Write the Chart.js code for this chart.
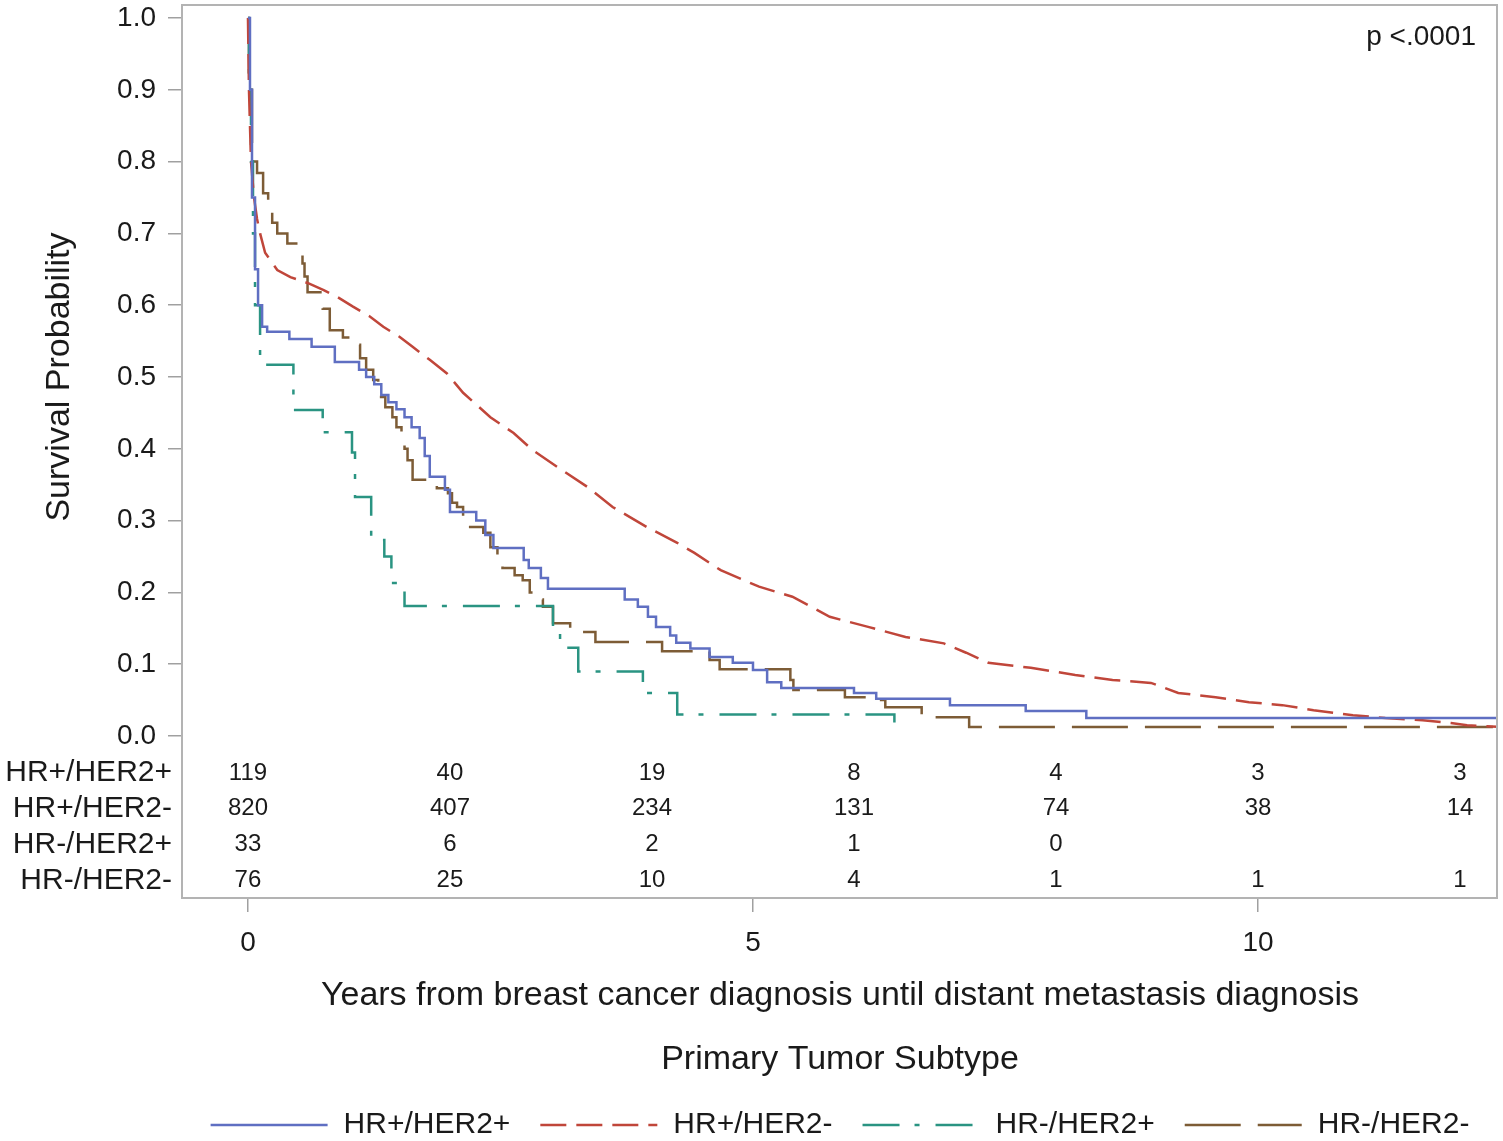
<!DOCTYPE html>
<html>
<head>
<meta charset="utf-8">
<title>Survival by primary tumor subtype</title>
<script src="https://cdn.jsdelivr.net/npm/chart.js@4.4.0/dist/chart.umd.min.js"></script>
<style>
    html, body { margin: 0; padding: 0; background: #fff; }
    #wrap { width: 1503px; height: 1141px; }
</style>
</head>
<body>
<div id="wrap"><canvas id="kmChart"></canvas></div>
<script>
// groups
const groups = ['HR+/HER2+', 'HR+/HER2-', 'HR-/HER2+', 'HR-/HER2-'];

// HR+/HER2+ (step curve)
const hrPosHer2PosTime = [0, 0.02, 0.04, 0.07, 0.10, 0.14, 0.19, 0.41, 0.63, 0.86, 1.10, 1.17, 1.25, 1.32, 1.39, 1.47, 1.55, 1.62, 1.70, 1.75, 1.80, 1.95, 2.00, 2.26, 2.35, 2.43, 2.73, 2.78, 2.90, 2.97, 3.73, 3.86, 3.96, 4.04, 4.18, 4.24, 4.38, 4.57, 4.80, 5.00, 5.14, 5.28, 6.00, 6.22, 6.95, 7.70, 8.30, 12.37];
const hrPosHer2PosSurv = [1.0, 0.90, 0.75, 0.65, 0.60, 0.57, 0.563, 0.553, 0.542, 0.521, 0.51, 0.50, 0.49, 0.475, 0.465, 0.455, 0.444, 0.43, 0.415, 0.39, 0.361, 0.343, 0.312, 0.30, 0.28, 0.262, 0.245, 0.234, 0.22, 0.205, 0.19, 0.18, 0.166, 0.152, 0.14, 0.13, 0.122, 0.11, 0.102, 0.092, 0.075, 0.067, 0.06, 0.052, 0.043, 0.035, 0.025, 0.025];

// HR+/HER2- (dense small steps, drawn as a line)
const hrPosHer2NegTime = [0, 0.01, 0.03, 0.06, 0.09, 0.12, 0.17, 0.29, 0.42, 0.59, 0.75, 0.89, 1.04, 1.21, 1.34, 1.50, 1.63, 1.80, 1.97, 2.13, 2.40, 2.63, 2.82, 3.06, 3.36, 3.61, 3.95, 4.25, 4.42, 4.68, 5.06, 5.39, 5.76, 6.14, 6.51, 6.89, 7.11, 7.33, 7.75, 8.19, 8.56, 8.94, 9.21, 9.58, 9.91, 10.24, 10.55, 10.94, 11.26, 11.63, 11.91, 12.07, 12.37];
const hrPosHer2NegSurv = [1.0, 0.90, 0.80, 0.75, 0.72, 0.70, 0.673, 0.649, 0.639, 0.631, 0.621, 0.611, 0.598, 0.584, 0.57, 0.556, 0.542, 0.524, 0.505, 0.478, 0.444, 0.422, 0.398, 0.375, 0.347, 0.319, 0.291, 0.269, 0.255, 0.231, 0.208, 0.194, 0.166, 0.152, 0.138, 0.129, 0.116, 0.102, 0.095, 0.085, 0.078, 0.074, 0.06, 0.054, 0.047, 0.043, 0.036, 0.029, 0.025, 0.022, 0.018, 0.015, 0.013];

// HR-/HER2+ (step curve, ends at 0)
const hrNegHer2PosTime = [0, 0.01, 0.03, 0.05, 0.07, 0.12, 0.45, 0.74, 1.03, 1.06, 1.22, 1.35, 1.42, 1.55, 3.02, 3.09, 3.27, 3.91, 4.25, 6.40];
const hrNegHer2PosSurv = [1.0, 0.90, 0.80, 0.70, 0.60, 0.517, 0.454, 0.423, 0.395, 0.333, 0.273, 0.25, 0.213, 0.181, 0.152, 0.123, 0.09, 0.06, 0.03, 0.0];

// HR-/HER2- (step curve)
const hrNegHer2NegTime = [0, 0.01, 0.04, 0.09, 0.15, 0.20, 0.24, 0.29, 0.39, 0.51, 0.54, 0.56, 0.59, 0.74, 0.81, 0.94, 1.01, 1.11, 1.17, 1.24, 1.29, 1.36, 1.43, 1.47, 1.52, 1.55, 1.58, 1.63, 1.87, 1.98, 2.02, 2.07, 2.13, 2.20, 2.33, 2.40, 2.47, 2.52, 2.64, 2.72, 2.79, 2.87, 2.92, 3.02, 3.19, 3.44, 4.10, 4.57, 4.67, 5.37, 5.40, 5.91, 6.25, 6.31, 6.67, 7.14, 12.37];
const hrNegHer2NegSurv = [1.0, 0.90, 0.80, 0.784, 0.756, 0.733, 0.715, 0.70, 0.686, 0.677, 0.658, 0.64, 0.618, 0.595, 0.565, 0.555, 0.545, 0.526, 0.51, 0.496, 0.472, 0.458, 0.444, 0.43, 0.418, 0.40, 0.384, 0.357, 0.345, 0.338, 0.325, 0.319, 0.305, 0.291, 0.283, 0.263, 0.25, 0.234, 0.224, 0.217, 0.20, 0.19, 0.18, 0.157, 0.145, 0.131, 0.118, 0.106, 0.093, 0.078, 0.064, 0.054, 0.05, 0.04, 0.026, 0.0125, 0.0125];

// number at risk
const atRiskTimes = [0, 2, 4, 6, 8, 10, 12];
const hrPosHer2PosRisk = [119, 40, 19, 8, 4, 3, 3];
const hrPosHer2NegRisk = [820, 407, 234, 131, 74, 38, 14];
const hrNegHer2PosRisk = [33, 6, 2, 1, 0, null, null];
const hrNegHer2NegRisk = [76, 25, 10, 4, 1, 1, 1];

const xTicks = [0, 5, 10];
const yTicks = [0, 0.1, 0.2, 0.3, 0.4, 0.5, 0.6, 0.7, 0.8, 0.9, 1.0];

const FONT = "'Liberation Sans', Arial, sans-serif";
const TEXT = '#1a1a1a';
const colors = ['#5f6fc2', '#c0463a', '#2a9482', '#7d5c36'];
const dashes = [[], [26, 10], [37, 15, 5, 16], [56, 17]];

function toPoints(times, surv) {
    return times.map((t, i) => ({ x: t, y: surv[i] }));
}

const riskRows = [hrPosHer2PosRisk, hrPosHer2NegRisk, hrNegHer2PosRisk, hrNegHer2NegRisk];

const kmExtras = {
    id: 'kmExtras',
    afterDraw(chart) {
        const { ctx, chartArea: a, scales: { x, y } } = chart;
        ctx.save();

        // box round the plot
        ctx.strokeStyle = '#b3b3b3';
        ctx.lineWidth = 2;
        ctx.strokeRect(a.left, a.top, a.right - a.left, a.bottom - a.top);

        ctx.fillStyle = TEXT;

        // p value
        ctx.font = '28px ' + FONT;
        ctx.textAlign = 'right';
        ctx.textBaseline = 'middle';
        ctx.fillText('p <.0001', a.right - 21, 37);

        // at-risk table inside the plot
        riskRows.forEach((row, r) => {
            const py = y.getPixelForValue(-0.05 * (r + 1)) + 1;
            ctx.font = '30px ' + FONT;
            ctx.textAlign = 'right';
            ctx.fillText(groups[r], a.left - 10, py);
            ctx.font = '24px ' + FONT;
            ctx.textAlign = 'center';
            row.forEach((n, i) => {
                if (n === null) return;
                ctx.fillText(String(n), x.getPixelForValue(atRiskTimes[i]), py);
            });
        });

        // axis titles
        ctx.font = '34px ' + FONT;
        ctx.textAlign = 'center';
        const midX = (a.left + a.right) / 2 + 0.5;
        ctx.fillText('Years from breast cancer diagnosis until distant metastasis diagnosis', midX, 996);
        ctx.fillText('Primary Tumor Subtype', midX, 1060);

        ctx.save();
        ctx.translate(60, (y.getPixelForValue(0) + y.getPixelForValue(1)) / 2);
        ctx.rotate(-Math.PI / 2);
        ctx.fillText('Survival Probability', 0, 0);
        ctx.restore();

        // legend
        ctx.font = '30px ' + FONT;
        const lineLen = 117, gap = 16, itemGap = 30;
        const widths = groups.map(g => ctx.measureText(g).width);
        const total = widths.reduce((s, w) => s + lineLen + gap + w, 0) + itemGap * (groups.length - 1);
        let lx = midX - total / 2;
        const ly = 1125;
        groups.forEach((g, i) => {
            ctx.beginPath();
            ctx.strokeStyle = colors[i];
            ctx.lineWidth = 2.5;
            ctx.setLineDash(dashes[i]);
            ctx.moveTo(lx, ly);
            ctx.lineTo(lx + lineLen, ly);
            ctx.stroke();
            ctx.setLineDash([]);
            ctx.textAlign = 'left';
            ctx.fillText(g, lx + lineLen + gap, ly);
            lx += lineLen + gap + widths[i] + itemGap;
        });

        ctx.restore();
    }
};

Chart.defaults.font.family = FONT;
Chart.defaults.color = TEXT;

// stepped: 'before' keeps each value until the next event time (Kaplan-Meier steps)
new Chart(document.getElementById('kmChart').getContext('2d'), {
    type: 'line',
    data: {
        datasets: [
            { label: groups[0], data: toPoints(hrPosHer2PosTime, hrPosHer2PosSurv), stepped: 'before' },
            { label: groups[1], data: toPoints(hrPosHer2NegTime, hrPosHer2NegSurv), stepped: false },
            { label: groups[2], data: toPoints(hrNegHer2PosTime, hrNegHer2PosSurv), stepped: 'before' },
            { label: groups[3], data: toPoints(hrNegHer2NegTime, hrNegHer2NegSurv), stepped: 'before' }
        ].map((d, i) => Object.assign(d, {
            borderColor: colors[i],
            borderDash: dashes[i],
            borderWidth: 2.5,
            pointRadius: 0,
            fill: false,
            tension: 0
        }))
    },
    options: {
        responsive: true,
        maintainAspectRatio: false,
        animation: false,
        layout: { padding: { left: 0, top: 5, right: 6, bottom: 0 } },
        plugins: {
            legend: { display: false },
            tooltip: { enabled: false }
        },
        scales: {
            x: {
                type: 'linear',
                min: -0.653,
                max: 12.366,
                afterBuildTicks: s => { s.ticks = xTicks.map(v => ({ value: v })); },
                afterFit: s => { s.height = 243; s.paddingLeft = 0; s.paddingRight = 0; },
                ticks: { font: { size: 28 }, color: TEXT, padding: 14, autoSkip: false, maxRotation: 0 },
                grid: { drawOnChartArea: false, tickLength: 14, color: '#a0a0a0', lineWidth: 1.5 },
                border: { color: '#b3b3b3', width: 2 }
            },
            y: {
                type: 'linear',
                min: -0.2256,
                max: 1.0181,
                afterBuildTicks: s => { s.ticks = yTicks.map(v => ({ value: v })); },
                afterFit: s => { s.width = 182; s.paddingTop = 0; s.paddingBottom = 0; },
                ticks: { font: { size: 28 }, color: TEXT, padding: 12, callback: v => v.toFixed(1) },
                grid: { drawOnChartArea: false, tickLength: 14, color: '#a0a0a0', lineWidth: 1.5 },
                border: { color: '#b3b3b3', width: 2 }
            }
        }
    },
    plugins: [kmExtras]
});
</script>
</body>
</html>
